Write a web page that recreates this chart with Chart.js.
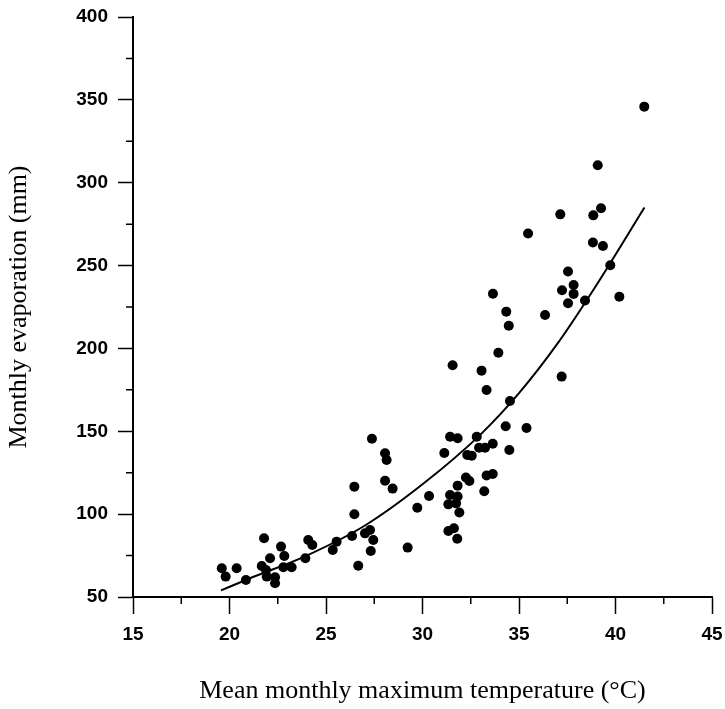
<!DOCTYPE html>
<html>
<head>
<meta charset="utf-8">
<script src="https://cdn.jsdelivr.net/npm/chart.js@4.4.1/dist/chart.umd.min.js"></script>
<style>
html,body{margin:0;padding:0;background:#fff;}
#wrap{width:725px;height:709px;}
</style>
</head>
<body>
<div id="wrap"><canvas id="c" width="725" height="709"></canvas></div>
<script>
const tempX = [41.49,39.08,37.14,39.25,38.85,35.47,38.83,39.35,39.73,37.54,37.83,37.23,37.83,37.54,38.42,40.2,34.34,36.35,
  33.65,34.47,
  33.93,31.56,33.06,33.32,37.21,34.53,34.31,35.39,31.43,31.82,32.81,33.64,32.93,33.24,34.50,31.13,32.32,32.55,28.06,28.14,
  28.06,28.45,32.25,32.43,33.32,33.64,31.82,33.2,30.34,29.73,31.43,31.82,31.34,31.74,31.91,31.34,31.63,31.8,29.23,
  27.38,26.47,26.47,26.35,27.02,27.28,27.45,27.32,26.67,19.6,19.8,20.37,20.85,21.79,21.67,22.1,21.89,21.93,22.36,22.36,
  22.67,22.84,22.79,23.22,23.93,24.08,24.29,25.35,25.55];
const evapY = [345.9,310.5,280.9,284.6,280.3,269.3,263.9,261.8,250.2,246.4,238.3,235.1,232.9,227.3,228.9,231.2,222.2,220.2,
  233.0,213.7,
  197.4,189.8,186.6,174.9,183.0,168.3,153.0,152.0,146.7,145.8,146.7,142.5,140.1,140.1,138.7,136.9,135.7,135.3,136.7,132.7,
  120.2,115.4,122.1,120.0,123.3,124.2,117.2,113.8,111.0,103.9,111.6,110.6,105.9,106.5,101.0,89.8,91.5,85.2,79.8,
  145.5,116.6,99.9,86.8,88.4,90.4,84.4,77.8,68.9,67.3,62.3,67.3,60.3,85.4,68.7,73.4,66.3,62.3,61.9,58.3,
  80.4,74.7,67.9,67.9,73.4,84.4,81.4,78.4,83.4];
// Fitted curve, points
const curveX = [19.56,21.0,24.0,27.0,30.0,33.0,35.0,37.0,39.0,41.5];
const curveY = [54.0,61.0,75.0,93.0,118.0,148.0,173.0,203.0,238.0,285.0];
// Axis ticks
const xMajor = [15,20,25,30,35,40,45];
const xMinor = [17.5,22.5,27.5,32.5,37.5,42.5];
const yMajor = [50,100,150,200,250,300,350,400];
const yMinor = [75,125,175,225,275,325,375];
const xTitle = 'Mean monthly maximum temperature (\u00B0C)';
const yTitle = 'Monthly evaporation (mm)';

const pts = tempX.map((x,i)=>({x:x,y:evapY[i]}));
const curve = curveX.map((x,i)=>({x:x,y:curveY[i]}));

const minorTicks = {
  id:'minorTicks',
  afterDraw(chart){
    const ctx = chart.ctx, xs = chart.scales.x, ys = chart.scales.y;
    ctx.save();
    ctx.strokeStyle = '#000';
    ctx.lineWidth = 1.5;
    ctx.beginPath();
    xMinor.forEach(v=>{const p = xs.getPixelForValue(v); ctx.moveTo(p, xs.top); ctx.lineTo(p, xs.top+7);});
    yMinor.forEach(v=>{const p = ys.getPixelForValue(v); ctx.moveTo(ys.right, p); ctx.lineTo(ys.right-7, p);});
    ctx.stroke();
    ctx.restore();
  }
};

new Chart(document.getElementById('c'), {
  type:'scatter',
  data:{datasets:[
    {data:curve, showLine:true, borderColor:'#000', borderWidth:2, pointRadius:0, tension:0.4, cubicInterpolationMode:'monotone', fill:false},
    {data:pts, pointRadius:5, pointBackgroundColor:'#000', pointBorderColor:'#000', pointBorderWidth:0, showLine:false}
  ]},
  options:{
    responsive:false, animation:false, devicePixelRatio:1,
    layout:{padding:{left:0,right:13,top:17,bottom:0}},
    plugins:{legend:{display:false}, tooltip:{enabled:false}},
    scales:{
      x:{type:'linear', min:15, max:45,
        afterBuildTicks(s){ s.ticks = xMajor.map(v=>({value:v})); },
        afterFit(s){ s.height = 112; s.paddingLeft = 0; s.paddingRight = 0; },
        ticks:{color:'#000', padding:9, font:{family:'Liberation Sans', size:19, weight:'bold'}},
        grid:{display:true, drawOnChartArea:false, drawTicks:true, tickLength:17, tickColor:'#000', tickWidth:1.5},
        border:{display:true, color:'#000', width:2},
        title:{display:true, text:xTitle, color:'#000', font:{family:'Liberation Serif', size:26}, padding:{top:0,bottom:2}}
      },
      y:{type:'linear', min:50, max:400,
        afterBuildTicks(s){ s.ticks = yMajor.map(v=>({value:v})); },
        afterFit(s){ s.width = 133; s.paddingTop = 0; s.paddingBottom = 0; },
        ticks:{color:'#000', padding:10, font:{family:'Liberation Sans', size:19, weight:'bold'}},
        grid:{display:true, drawOnChartArea:false, drawTicks:true, tickLength:15, tickColor:'#000', tickWidth:1.5},
        border:{display:true, color:'#000', width:2},
        title:{display:true, text:yTitle, color:'#000', font:{family:'Liberation Serif', size:26}, padding:{top:4,bottom:0}}
      }
    }
  },
  plugins:[minorTicks]
});
</script>
</body>
</html>
